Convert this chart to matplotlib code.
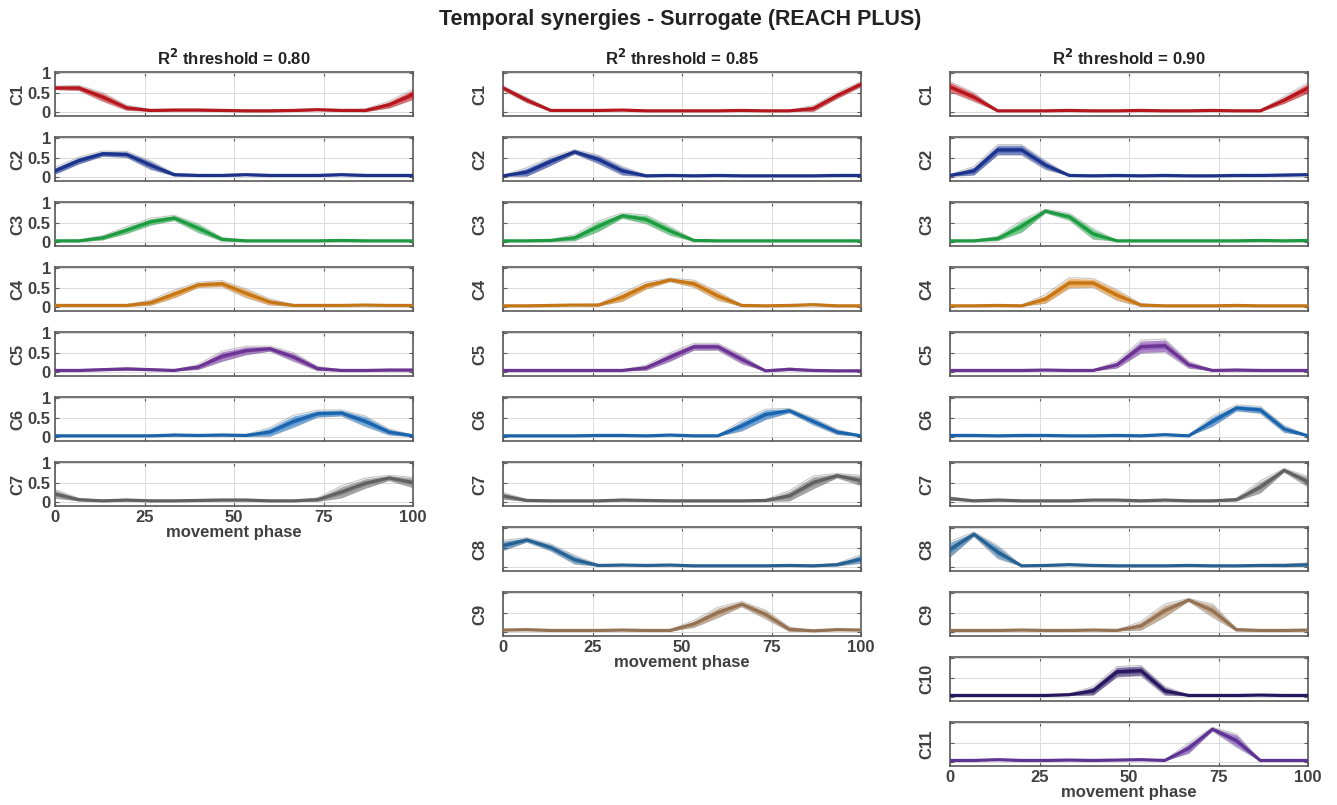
import matplotlib
matplotlib.use('Agg')
import matplotlib.pyplot as plt
import matplotlib.colors as mcolors
import numpy as np

plt.rcParams['font.family'] = ['Liberation Sans', 'DejaVu Sans']
plt.rcParams['font.weight'] = 'bold'

# movement phase samples (16 knots)
phase = [0, 6.67, 13.33, 20, 26.67, 33.33, 40, 46.67, 53.33, 60, 66.67, 73.33, 80, 86.67, 93.33, 100]

thresholds = ['0.80', '0.85', '0.90']
syn_colors = ['#cc1a22', '#1f3a9e', '#22b04a', '#e0861a', '#7a3aa6', '#1f72c4', '#6e6e6e',
              '#2b6ea6', '#a8825e', '#2e1a6b', '#6a3aa8']

# R2 threshold = 0.80 (7 synergies): mean and spread
mean_080 = [
    [0.62, 0.62, 0.38, 0.10, 0.03, 0.04, 0.04, 0.03, 0.02, 0.02, 0.03, 0.05, 0.03, 0.03, 0.18, 0.45],
    [0.15, 0.42, 0.60, 0.58, 0.30, 0.05, 0.03, 0.03, 0.05, 0.03, 0.03, 0.03, 0.05, 0.03, 0.03, 0.03],
    [0.02, 0.02, 0.10, 0.30, 0.52, 0.62, 0.35, 0.06, 0.02, 0.02, 0.02, 0.02, 0.03, 0.02, 0.02, 0.02],
    [0.03, 0.03, 0.03, 0.03, 0.10, 0.33, 0.57, 0.60, 0.35, 0.12, 0.03, 0.03, 0.03, 0.04, 0.03, 0.03],
    [0.03, 0.03, 0.05, 0.07, 0.05, 0.03, 0.12, 0.40, 0.55, 0.60, 0.38, 0.08, 0.03, 0.03, 0.04, 0.04],
    [0.02, 0.02, 0.02, 0.02, 0.02, 0.04, 0.03, 0.04, 0.03, 0.12, 0.40, 0.60, 0.62, 0.40, 0.12, 0.02],
    [0.20, 0.05, 0.02, 0.04, 0.02, 0.02, 0.03, 0.04, 0.04, 0.02, 0.02, 0.05, 0.25, 0.48, 0.62, 0.50],
]
sd_080 = [
    [0.04, 0.06, 0.10, 0.06, 0.02, 0.02, 0.02, 0.02, 0.02, 0.02, 0.02, 0.02, 0.02, 0.03, 0.08, 0.12],
    [0.08, 0.08, 0.06, 0.07, 0.10, 0.03, 0.02, 0.02, 0.02, 0.02, 0.02, 0.02, 0.02, 0.02, 0.02, 0.02],
    [0.01, 0.02, 0.05, 0.08, 0.08, 0.06, 0.10, 0.04, 0.01, 0.01, 0.01, 0.01, 0.01, 0.01, 0.01, 0.01],
    [0.01, 0.01, 0.01, 0.02, 0.06, 0.09, 0.06, 0.07, 0.10, 0.07, 0.02, 0.01, 0.01, 0.01, 0.01, 0.01],
    [0.01, 0.01, 0.02, 0.03, 0.02, 0.01, 0.06, 0.12, 0.10, 0.06, 0.10, 0.05, 0.01, 0.01, 0.02, 0.02],
    [0.01, 0.01, 0.01, 0.01, 0.01, 0.02, 0.01, 0.02, 0.02, 0.10, 0.14, 0.08, 0.07, 0.12, 0.07, 0.02],
    [0.10, 0.03, 0.01, 0.02, 0.01, 0.01, 0.02, 0.02, 0.02, 0.01, 0.01, 0.04, 0.14, 0.12, 0.06, 0.12],
]

# R2 threshold = 0.85 (9 synergies)
mean_085 = [
    [0.62, 0.30, 0.03, 0.03, 0.03, 0.04, 0.02, 0.02, 0.02, 0.02, 0.03, 0.02, 0.02, 0.08, 0.42, 0.72],
    [0.02, 0.12, 0.40, 0.65, 0.45, 0.15, 0.02, 0.03, 0.02, 0.03, 0.02, 0.02, 0.02, 0.02, 0.03, 0.03],
    [0.02, 0.02, 0.03, 0.10, 0.40, 0.68, 0.58, 0.28, 0.03, 0.02, 0.02, 0.02, 0.02, 0.02, 0.02, 0.02],
    [0.02, 0.02, 0.03, 0.04, 0.04, 0.25, 0.55, 0.70, 0.60, 0.28, 0.03, 0.02, 0.03, 0.05, 0.02, 0.02],
    [0.03, 0.03, 0.03, 0.03, 0.03, 0.03, 0.10, 0.38, 0.65, 0.65, 0.32, 0.02, 0.06, 0.03, 0.02, 0.02],
    [0.02, 0.02, 0.02, 0.02, 0.03, 0.03, 0.02, 0.04, 0.02, 0.02, 0.28, 0.58, 0.68, 0.40, 0.12, 0.02],
    [0.15, 0.03, 0.02, 0.02, 0.02, 0.04, 0.03, 0.02, 0.02, 0.02, 0.02, 0.03, 0.15, 0.50, 0.68, 0.55],
    [0.55, 0.70, 0.50, 0.18, 0.03, 0.04, 0.03, 0.04, 0.02, 0.02, 0.02, 0.02, 0.03, 0.02, 0.05, 0.20],
    [0.04, 0.05, 0.03, 0.03, 0.03, 0.04, 0.03, 0.03, 0.20, 0.50, 0.72, 0.45, 0.06, 0.02, 0.05, 0.04],
]
sd_085 = [
    [0.05, 0.06, 0.02, 0.01, 0.01, 0.01, 0.01, 0.01, 0.01, 0.01, 0.01, 0.01, 0.01, 0.07, 0.07, 0.06],
    [0.01, 0.10, 0.10, 0.05, 0.10, 0.10, 0.02, 0.01, 0.01, 0.01, 0.01, 0.01, 0.01, 0.01, 0.01, 0.01],
    [0.01, 0.01, 0.02, 0.07, 0.12, 0.06, 0.10, 0.10, 0.02, 0.01, 0.01, 0.01, 0.01, 0.01, 0.01, 0.01],
    [0.01, 0.01, 0.01, 0.01, 0.02, 0.10, 0.08, 0.04, 0.08, 0.10, 0.02, 0.01, 0.01, 0.02, 0.01, 0.01],
    [0.01, 0.01, 0.01, 0.01, 0.01, 0.01, 0.06, 0.10, 0.08, 0.08, 0.10, 0.01, 0.03, 0.01, 0.01, 0.01],
    [0.01, 0.01, 0.01, 0.01, 0.01, 0.01, 0.01, 0.01, 0.01, 0.01, 0.12, 0.12, 0.05, 0.08, 0.06, 0.01],
    [0.08, 0.02, 0.01, 0.01, 0.01, 0.02, 0.01, 0.01, 0.01, 0.01, 0.01, 0.02, 0.12, 0.15, 0.05, 0.12],
    [0.12, 0.05, 0.08, 0.10, 0.02, 0.01, 0.01, 0.01, 0.01, 0.01, 0.01, 0.01, 0.01, 0.01, 0.03, 0.10],
    [0.01, 0.02, 0.01, 0.01, 0.01, 0.01, 0.01, 0.02, 0.08, 0.12, 0.06, 0.10, 0.05, 0.01, 0.02, 0.01],
]

# R2 threshold = 0.90 (11 synergies)
mean_090 = [
    [0.65, 0.38, 0.02, 0.02, 0.02, 0.03, 0.02, 0.02, 0.03, 0.02, 0.02, 0.03, 0.02, 0.02, 0.30, 0.62],
    [0.03, 0.15, 0.70, 0.70, 0.30, 0.03, 0.02, 0.03, 0.02, 0.03, 0.02, 0.02, 0.03, 0.03, 0.04, 0.05],
    [0.02, 0.02, 0.08, 0.40, 0.80, 0.65, 0.20, 0.02, 0.02, 0.02, 0.02, 0.02, 0.02, 0.03, 0.02, 0.03],
    [0.02, 0.02, 0.03, 0.02, 0.20, 0.62, 0.62, 0.30, 0.04, 0.02, 0.02, 0.02, 0.03, 0.02, 0.02, 0.02],
    [0.03, 0.03, 0.03, 0.03, 0.04, 0.03, 0.03, 0.18, 0.65, 0.68, 0.18, 0.03, 0.04, 0.03, 0.03, 0.03],
    [0.03, 0.03, 0.02, 0.03, 0.03, 0.02, 0.02, 0.03, 0.02, 0.05, 0.02, 0.40, 0.75, 0.70, 0.20, 0.02],
    [0.08, 0.02, 0.04, 0.02, 0.02, 0.02, 0.04, 0.04, 0.02, 0.04, 0.02, 0.02, 0.05, 0.38, 0.82, 0.52],
    [0.45, 0.85, 0.38, 0.02, 0.03, 0.05, 0.03, 0.02, 0.02, 0.02, 0.03, 0.02, 0.02, 0.03, 0.03, 0.05],
    [0.03, 0.03, 0.03, 0.04, 0.03, 0.03, 0.04, 0.03, 0.15, 0.55, 0.83, 0.55, 0.05, 0.03, 0.03, 0.04],
    [0.03, 0.03, 0.03, 0.03, 0.03, 0.05, 0.15, 0.65, 0.68, 0.15, 0.03, 0.03, 0.03, 0.04, 0.03, 0.03],
    [0.03, 0.03, 0.05, 0.03, 0.03, 0.04, 0.03, 0.04, 0.05, 0.03, 0.35, 0.85, 0.55, 0.03, 0.03, 0.03],
]
sd_090 = [
    [0.12, 0.10, 0.01, 0.01, 0.01, 0.01, 0.01, 0.01, 0.01, 0.01, 0.01, 0.01, 0.01, 0.02, 0.08, 0.12],
    [0.02, 0.10, 0.12, 0.12, 0.10, 0.01, 0.01, 0.01, 0.01, 0.01, 0.01, 0.01, 0.01, 0.01, 0.02, 0.02],
    [0.01, 0.01, 0.05, 0.14, 0.04, 0.08, 0.12, 0.01, 0.01, 0.01, 0.01, 0.01, 0.01, 0.01, 0.01, 0.01],
    [0.01, 0.01, 0.01, 0.01, 0.10, 0.12, 0.10, 0.12, 0.03, 0.01, 0.01, 0.01, 0.01, 0.01, 0.01, 0.01],
    [0.01, 0.01, 0.01, 0.01, 0.01, 0.01, 0.01, 0.08, 0.15, 0.15, 0.08, 0.01, 0.02, 0.01, 0.01, 0.01],
    [0.01, 0.01, 0.01, 0.01, 0.01, 0.01, 0.01, 0.01, 0.01, 0.02, 0.01, 0.12, 0.07, 0.08, 0.08, 0.01],
    [0.04, 0.01, 0.02, 0.01, 0.01, 0.01, 0.01, 0.01, 0.01, 0.01, 0.01, 0.01, 0.03, 0.14, 0.04, 0.12],
    [0.18, 0.05, 0.15, 0.01, 0.01, 0.02, 0.01, 0.01, 0.01, 0.01, 0.01, 0.01, 0.01, 0.02, 0.03, 0.04],
    [0.01, 0.01, 0.01, 0.01, 0.01, 0.01, 0.01, 0.01, 0.10, 0.15, 0.03, 0.15, 0.03, 0.01, 0.01, 0.01],
    [0.01, 0.01, 0.01, 0.01, 0.01, 0.02, 0.10, 0.12, 0.12, 0.10, 0.01, 0.01, 0.01, 0.01, 0.01, 0.01],
    [0.01, 0.01, 0.01, 0.01, 0.01, 0.01, 0.01, 0.01, 0.01, 0.01, 0.12, 0.04, 0.15, 0.01, 0.01, 0.01],
]

W, H = 1337, 805
fig = plt.figure(figsize=(W / 100, H / 100), dpi=100, facecolor='white')

col_left = [55, 503, 950]
col_width = 358
row_top0 = 72.3
row_pitch = 65
row_h = 43.5
axis_col = '#5a5a5a'
text_col = '#404040'

columns = [(mean_080, sd_080), (mean_085, sd_085), (mean_090, sd_090)]
x = np.array(phase)


def darker(c, f=0.88):
    r, g, b = mcolors.to_rgb(c)
    return (r * f, g * f, b * f)


for c, (means, sds) in enumerate(columns):
    n = len(means)
    for r in range(n):
        top = row_top0 + r * row_pitch
        ax = fig.add_axes([col_left[c] / W, 1 - (top + row_h) / H, col_width / W, row_h / H])
        m = np.array(means[r])
        s = np.array(sds[r])
        col = syn_colors[r]
        # individual-trace envelope (light gray) + synergy band
        ax.plot(x, m - 1.15 * s, color='#8c8c8c', lw=0.8, alpha=0.5, zorder=2)
        ax.plot(x, m + 1.15 * s, color='#8c8c8c', lw=0.8, alpha=0.5, zorder=2)
        ax.fill_between(x, m - s, m + s, color=col, alpha=0.6, lw=0, zorder=3)
        ax.fill_between(x, m - 0.5 * s, m + 0.5 * s, color=col, alpha=0.45, lw=0, zorder=3)
        ax.plot(x, m, color=darker(col), lw=2.3, zorder=4)

        ax.set_xlim(0, 100)
        ax.set_ylim(-0.11, 1.03)
        ax.set_xticks([0, 25, 50, 75, 100])
        ax.set_yticks([0, 0.5, 1])
        ax.grid(True, color='#dadada', lw=0.7, zorder=0)
        ax.set_axisbelow(True)
        for sp in ax.spines.values():
            sp.set_color(axis_col)
            sp.set_linewidth(1.2)
        ax.tick_params(direction='in', length=3, width=0.8, color=axis_col,
                       top=True, right=True, labelsize=12, labelcolor=text_col, pad=3)
        if c == 0:
            ax.set_yticklabels(['0', '0.5', '1'], fontweight='bold')
        else:
            ax.set_yticklabels([])
        ax.set_ylabel('C%d' % (r + 1), fontsize=12, fontweight='bold', color=text_col,
                      labelpad=2 if c == 0 else 8)
        if r == n - 1:
            ax.set_xticklabels(['0', '25', '50', '75', '100'], fontweight='bold')
            ax.set_xlabel('movement phase', fontsize=12, fontweight='bold', color=text_col, labelpad=0)
        else:
            ax.set_xticklabels([])
        if r == 0:
            ax.set_title('R$^\\mathbf{2}$ threshold = ' + thresholds[c], fontsize=12,
                         fontweight='bold', color='#222222', pad=5)

fig.text(680 / W, 1 - 19 / H, 'Temporal synergies - Surrogate (REACH PLUS)', ha='center', va='center',
         fontsize=15.5, fontweight='bold', color='#222222')

fig.savefig('out.png', dpi=100, facecolor='white')
